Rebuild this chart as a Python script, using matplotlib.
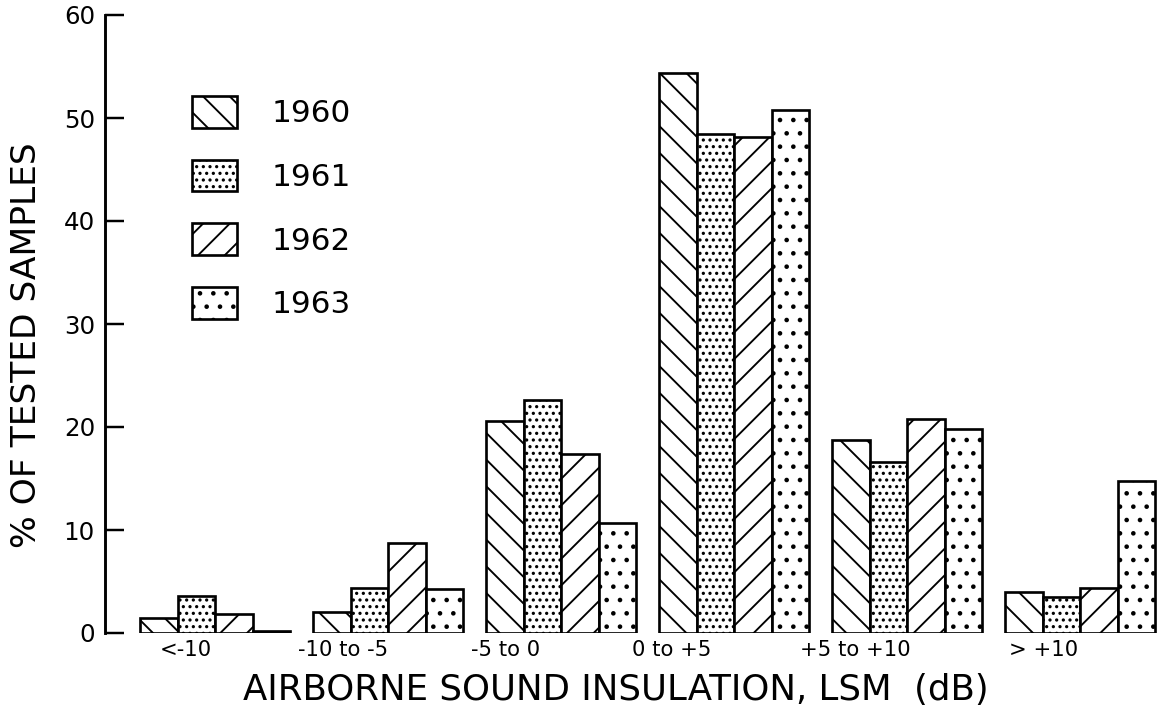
import matplotlib
matplotlib.use("Agg")
import matplotlib.pyplot as plt
from matplotlib.patches import Patch

# ---- data ----
categories = ["<-10", "-10 to -5", "-5 to 0", "0 to +5", "+5 to +10", "> +10"]
years = ["1960", "1961", "1962", "1963"]
v1960 = [1.5, 2.0, 20.6, 54.4, 18.7, 4.0]
v1961 = [3.6, 4.4, 22.6, 48.4, 16.6, 3.5]
v1962 = [1.8, 8.7, 17.4, 48.2, 20.8, 4.4]
v1963 = [0.2, 4.3, 10.7, 50.8, 19.8, 14.8]
yticks = [0, 10, 20, 30, 40, 50, 60]

# ---- layout ----
W, H, DPI = 1157, 721, 80
px_per_group = 173.0            # pixels between group centres
first_center_px = 215.0
bar_w = 37.5 / px_per_group
label_shift = [-0.17, -0.26, -0.32, -0.36, -0.30, -0.21]  # text offsets (groups)
hatches = ["\\", "..", "/", "."]

plt.rcParams["hatch.linewidth"] = 1.7
plt.rcParams["font.family"] = ["DejaVu Sans"]

fig = plt.figure(figsize=(W / DPI, H / DPI), dpi=DPI)
ax_left, ax_right, ax_bottom, ax_top = 105, 1157, 633, 15
ax = fig.add_axes([ax_left / W, (H - ax_bottom) / H,
                   (ax_right - ax_left) / W, (ax_bottom - ax_top) / H])
ax.set_xlim((ax_left - first_center_px) / px_per_group,
            (ax_right - first_center_px) / px_per_group)
ax.set_ylim(0, 60)

idx = list(range(len(categories)))
series = [v1960, v1961, v1962, v1963]
handles = []
for k, (vals, hat) in enumerate(zip(series, hatches)):
    xs = [i + (k - 1.5) * bar_w for i in idx]
    ax.bar(xs, vals, width=bar_w, facecolor="white",
           edgecolor="black", linewidth=2.4, hatch=hat, zorder=2)
    handles.append(Patch(facecolor="white", edgecolor="black",
                         linewidth=2.4, hatch=hat))

for s in ["top", "right", "bottom"]:
    ax.spines[s].set_visible(False)
ax.spines["left"].set_linewidth(2.6)
ax.set_yticks(yticks)
ax.tick_params(axis="y", direction="in", length=17, width=2.2, pad=9,
               labelsize=22)
ax.set_xticks([i + s for i, s in zip(idx, label_shift)])
ax.set_xticklabels(categories)
ax.tick_params(axis="x", length=0, pad=6, labelsize=19)
ax.patch.set_visible(False)

ax.legend(handles, years, loc="upper left",
          bbox_to_anchor=((192 - ax_left) / (ax_right - ax_left),
                          (ax_bottom - 96) / (ax_bottom - ax_top)),
          frameon=False, fontsize=28, handlelength=1.45,
          handleheight=1.2, handletextpad=1.1, labelspacing=1.0,
          borderpad=0, borderaxespad=0)

fig.text(616 / W, 1 - 690 / H, "AIRBORNE SOUND INSULATION, LSM  (dB)",
         ha="center", va="center", fontsize=32)
fig.text(27 / W, 1 - 345 / H, "% OF TESTED SAMPLES", rotation=90,
         ha="center", va="center", fontsize=31)

fig.savefig("out.png", dpi=DPI)
